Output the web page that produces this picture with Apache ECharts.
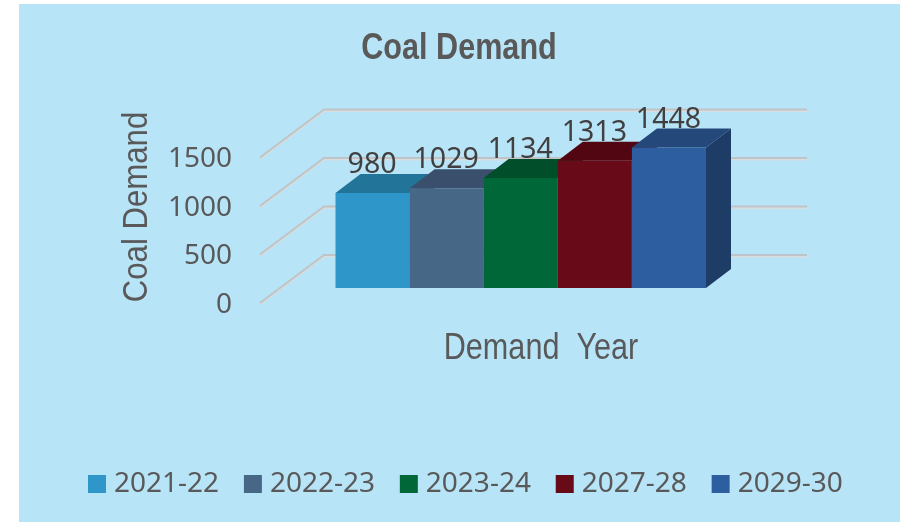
<!DOCTYPE html>
<html lang="en">
<head>
    <meta charset="utf-8">
    <title>Coal Demand</title>
    <script src="https://cdn.jsdelivr.net/npm/echarts@6/dist/echarts.min.js"></script>
    <style>
        html, body { margin: 0; padding: 0; background: #fff; }
        #divCoalDemand { width: 904px; height: 522px; }
    </style>
</head>
<body>
<div id="divCoalDemand"></div>

<script>
    var years = ['2021-22', '2022-23', '2023-24', '2027-28', '2029-30'];
    var demand = [980, 1029, 1134, 1313, 1448];
    var yTicks = [0, 500, 1000, 1500];
    var frontColors = ['#2E96C9', '#476787', '#006838', '#690A19', '#2D5FA0'];
    var topColors = ['#227498', '#3A4F6B', '#004F2A', '#520612', '#24487A'];
    var sideColors = ['#1C5D7C', '#2E4057', '#003F21', '#42040E', '#1E3D66'];

    // how far the 3d box and the floor go back, in pixels
    var barDepth = [25, -19];
    var wallDepth = [64, -48];
    var labelFont = 'Noto Sans';
    var headFont = 'Liberation Sans';

    var myChart = echarts.init(document.getElementById('divCoalDemand'));

    function renderWall(params, api) {
        var left = api.coord([0, api.value(0)]);
        var right = api.coord([1, api.value(0)]);
        return {
            type: 'polyline',
            shape: {
                points: [
                    left,
                    [left[0] + wallDepth[0], left[1] + wallDepth[1]],
                    [right[0], right[1] + wallDepth[1]]
                ]
            },
            style: {
                fill: null,
                stroke: '#BEC4C7',
                lineWidth: 2,
                shadowColor: '#D8DDDF',
                shadowOffsetY: 1.5
            }
        };
    }

    function renderBar(params, api) {
        var i = params.seriesIndex - 1;
        var base = api.coord([api.value(0), 0]);
        var top = api.coord([api.value(0), api.value(1)]);
        var w = api.size([1, 0])[0];
        var x0 = base[0] - w / 2, x1 = base[0] + w / 2;
        var dx = barDepth[0], dy = barDepth[1];
        return {
            type: 'group',
            children: [
                {
                    type: 'polygon',
                    shape: { points: [[x1, top[1]], [x1 + dx, top[1] + dy], [x1 + dx, base[1] + dy], [x1, base[1]]] },
                    style: { fill: sideColors[i] }
                },
                {
                    type: 'polygon',
                    shape: { points: [[x0, top[1]], [x0 + dx, top[1] + dy], [x1 + dx, top[1] + dy], [x1, top[1]]] },
                    style: { fill: topColors[i] }
                },
                {
                    type: 'rect',
                    shape: { x: x0, y: top[1], width: w, height: base[1] - top[1] },
                    style: { fill: frontColors[i] }
                },
                {
                    type: 'text',
                    z2: 10,
                    style: {
                        x: base[0] - 0.5,
                        y: top[1] - 28,
                        text: String(api.value(1)),
                        fill: '#404040',
                        font: '28.5px "' + labelFont + '"',
                        align: 'center',
                        verticalAlign: 'middle'
                    }
                }
            ]
        };
    }

    // narrow heading text, the installed fonts are all wider than the original
    function headText(text, x, y, size, weight, scaleX, rotation) {
        return {
            type: 'text',
            x: x,
            y: y,
            scaleX: scaleX,
            rotation: rotation,
            style: {
                text: text,
                fill: '#595959',
                font: weight + ' ' + size + 'px "' + headFont + '"',
                align: 'center',
                verticalAlign: 'middle'
            }
        };
    }

    var series = [{
        type: 'custom',
        xAxisIndex: 1,
        yAxisIndex: 1,
        silent: true,
        renderItem: renderWall,
        data: yTicks.map(function (t) { return [t]; }),
        encode: { y: 0 },
        z: 1
    }];

    years.forEach(function (year, i) {
        series.push({
            name: year,
            type: 'custom',
            xAxisIndex: 0,
            yAxisIndex: 0,
            renderItem: renderBar,
            itemStyle: { color: frontColors[i] },
            data: [[i, demand[i]]],
            encode: { x: 0, y: 1 },
            z: 2 + i
        });
    });

    var option = {
        animation: false,
        backgroundColor: '#FFFFFF',
        graphic: [
            {
                type: 'rect',
                z: -1,
                shape: { x: 19, y: 4, width: 881, height: 518 },
                style: { fill: '#B8E4F8' }
            },
            headText('Coal Demand', 459, 49, 36, 'bold', 0.85, 0),
            headText('Demand  Year', 541, 349, 36, 'normal', 0.85, 0),
            headText('Coal Demand', 137.5, 207, 35, 'normal', 0.89, Math.PI / 2)
        ],
        legend: {
            data: years,
            left: 83,
            top: 465,
            itemWidth: 18,
            itemHeight: 18,
            itemGap: 24.8,
            icon: 'rect',
            textStyle: { fontFamily: labelFont, fontSize: 28, color: '#595959', padding: [0, 0, 0, 3] }
        },
        grid: [
            { left: 335.5, top: 142.5, width: 370.5, height: 145.5 },
            { left: 260, top: 157.5, width: 547, height: 145.5 }
        ],
        xAxis: [
            { type: 'category', gridIndex: 0, data: [0, 1, 2, 3, 4], show: false },
            { type: 'value', gridIndex: 1, min: 0, max: 1, show: false }
        ],
        yAxis: [
            { type: 'value', gridIndex: 0, min: 0, max: 1500, interval: 500, show: false },
            {
                type: 'value',
                gridIndex: 1,
                min: 0,
                max: 1500,
                interval: 500,
                axisLine: { show: false },
                axisTick: { show: false },
                splitLine: { show: false },
                axisLabel: {
                    margin: 28,
                    formatter: function (v) { return '{t|' + v + '}'; },
                    rich: {
                        t: { fontFamily: labelFont, fontSize: 28, color: '#595959', padding: [4, 0, 0, 0] }
                    }
                }
            }
        ],
        series: series
    };

    myChart.setOption(option);
</script>
</body>
</html>
